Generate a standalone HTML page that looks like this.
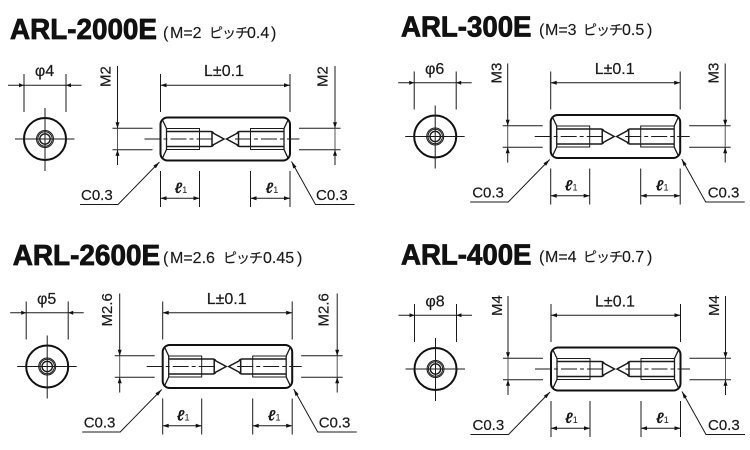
<!DOCTYPE html>
<html><head><meta charset="utf-8"><style>
html,body{margin:0;padding:0;background:#fff}
svg{display:block}
text{font-family:"Liberation Sans","Noto Sans CJK JP",sans-serif;fill:#1a1a1a}
.t{font-weight:bold;font-size:29px;stroke:#111;stroke-width:.8px;fill:#111}
.s{font-size:16px;stroke:#1a1a1a;stroke-width:.15px}
.s .k{font-size:14px;letter-spacing:-1px}
.d{font-size:15px;stroke:#1a1a1a;stroke-width:.2px}
.h{font-size:16px;stroke:#1a1a1a;stroke-width:.2px}
.l{font-size:15px;font-weight:bold;font-style:italic}
.l tspan{font-size:9px;font-weight:normal;font-style:normal}
</style></head><body>
<svg width="750" height="450" viewBox="0 0 750 450" xmlns="http://www.w3.org/2000/svg">
<defs>
<g id="b" fill="none" stroke="#1a1a1a" stroke-width="1">
  <!-- body -->
  <rect x="0" y="-21.5" width="129.5" height="43" rx="7" stroke="#111" stroke-width="2"/>
  <path d="M2 -19L6 -10.5V10.5L2 19M127.5 -19L123.5 -10.5V10.5L127.5 19" stroke-width="1.3"/>
  <path d="M6 -10.5H39V10.5H6M123.5 -10.5H90V10.5H123.5"/>
  <path d="M6 -7.5H39M6 7.5H39M90 -7.5H123.5M90 7.5H123.5" stroke-width="1.6"/>
  <path d="M39 -7.5H50Q52 -7.5 53 -6M39 7.5H50Q52 7.5 53 6M90 -7.5H79.5Q77.5 -7.5 76.5 -6M90 7.5H79.5Q77.5 7.5 76.5 6" stroke-width="1.5"/>
  <path d="M51.5 -6.5L63.5 0L51.5 6.5ZM78 -6.5L66 0L78 6.5Z" stroke-width="1.5"/>
  <path d="M-16 0H55M74.5 0H139" stroke-width="1" stroke-dasharray="16 3 4 3"/>
  <!-- M dims -->
  <path d="M-48 -10.7H-8M-48 10.7H-8M138.5 -10.7H180M138.5 10.7H180"/>
  <path d="M-43 -73V-10.7M-43 10.7V26M174.5 -73V-10.7M174.5 10.7V26"/>
  <path d="M-43 -10.7V10.7M174.5 -10.7V10.7" stroke="#555"/>
  <!-- L dim -->
  <path d="M0 -65V-27M129.5 -65V-27M0 -53.7H129.5"/>
  <!-- l dims -->
  <path d="M0 32V68M39 32V68M90 32V68M129.5 32V68M0 59.3H39M90 59.3H129.5"/>
  <!-- leaders -->
  <path d="M-80.5 65.5H-42.5L-1 23M131 22.5L155 65.5H194"/>
  <!-- front -->
  <circle cx="-115.5" cy="0" r="21" stroke="#111" stroke-width="2"/>
  <circle cx="-115.5" cy="0" r="8.5"/>
  <circle cx="-115.5" cy="0" r="7.2"/>
  <circle cx="-115.5" cy="0" r="5.2" stroke-width="1.4"/>
  <path d="M-145.5 0H-86M-115.5 -31V32"/>
  <path d="M-136.5 -65V-27M-94.5 -65V-27M-152.5 -53.7H-79"/>
</g>
<g id="a" fill="#111" stroke="none">
  <path d="M-43 -10.7l-2 -6h4zM-43 10.7l-2 6h4zM174.5 -10.7l-2 -6h4zM174.5 10.7l-2 6h4z"/>
  <path d="M0 -53.7l6 -2v4zM129.5 -53.7l-6 -2v4z"/>
  <path d="M0 59.3l6 -2v4zM39 59.3l-6 -2v4zM90 59.3l6 -2v4zM129.5 59.3l-6 -2v4z"/>
  <path d="M-1 23L-4.6 29.3L-7.2 26.7ZM131 22.5L136 27.7L132.8 29.5Z"/>
  <path d="M-136.5 -53.7l-5 -2v4zM-94.5 -53.7l5 -2v4z"/>
</g>
</defs>

<!-- Panel 1 -->
<text class="t" x="10" y="39" textLength="147" lengthAdjust="spacingAndGlyphs">ARL-2000E</text>
<text class="s" y="38"><tspan x="163">(</tspan><tspan x="170">M=2</tspan><tspan class="k" x="209">ピッチ</tspan><tspan x="247">0.4</tspan><tspan x="271">)</tspan></text>
<g transform="translate(160.5 139)">
  <use href="#b"/><use href="#a"/>
  <text class="h" x="63.5" y="-63" text-anchor="middle">L±0.1</text>
  <text class="h" x="-116" y="-63" text-anchor="middle">φ4</text>
  <text class="d" transform="translate(-50 -52) rotate(-90)">M2</text>
  <text class="d" transform="translate(167 -52) rotate(-90)">M2</text>
  <text class="d" x="-79.5" y="61">C0.3</text>
  <text class="d" x="155.5" y="61">C0.3</text>
  <text class="l" x="14" y="54">ℓ<tspan>1</tspan></text>
  <text class="l" x="105" y="54">ℓ<tspan>1</tspan></text>
</g>

<!-- Panel 2 -->
<text class="t" x="401" y="36.7" textLength="130.5" lengthAdjust="spacingAndGlyphs">ARL-300E</text>
<text class="s" y="35"><tspan x="539">(</tspan><tspan x="545">M=3</tspan><tspan class="k" x="583">ピッチ</tspan><tspan x="622">0.5</tspan><tspan x="647">)</tspan></text>
<g transform="translate(550.7 136.5)">
  <use href="#b"/><use href="#a"/>
  <text class="h" x="64" y="-62.5" text-anchor="middle">L±0.1</text>
  <text class="h" x="-116" y="-62.5" text-anchor="middle">φ6</text>
  <text class="d" transform="translate(-49 -53) rotate(-90)">M3</text>
  <text class="d" transform="translate(168 -53) rotate(-90)">M3</text>
  <text class="d" x="-78.5" y="61">C0.3</text>
  <text class="d" x="157" y="61">C0.3</text>
  <text class="l" x="14" y="54">ℓ<tspan>1</tspan></text>
  <text class="l" x="105" y="54">ℓ<tspan>1</tspan></text>
</g>

<!-- Panel 3 -->
<text class="t" x="12.7" y="265" textLength="147.5" lengthAdjust="spacingAndGlyphs">ARL-2600E</text>
<text class="s" y="263"><tspan x="163">(</tspan><tspan x="170">M=2.6</tspan><tspan class="k" x="223">ピッチ</tspan><tspan x="263">0.45</tspan><tspan x="297">)</tspan></text>
<g transform="translate(162.7 366.5)">
  <use href="#b"/><use href="#a"/>
  <text class="h" x="64" y="-62.5" text-anchor="middle">L±0.1</text>
  <text class="h" x="-116" y="-62.5" text-anchor="middle">φ5</text>
  <text class="d" transform="translate(-50.5 -40) rotate(-90)">M2.6</text>
  <text class="d" transform="translate(166 -40) rotate(-90)">M2.6</text>
  <text class="d" x="-79" y="61">C0.3</text>
  <text class="d" x="156" y="61">C0.3</text>
  <text class="l" x="14" y="54">ℓ<tspan>1</tspan></text>
  <text class="l" x="105" y="54">ℓ<tspan>1</tspan></text>
</g>

<!-- Panel 4 -->
<text class="t" x="401" y="264.3" textLength="130.5" lengthAdjust="spacingAndGlyphs">ARL-400E</text>
<text class="s" y="262"><tspan x="539">(</tspan><tspan x="545">M=4</tspan><tspan class="k" x="583">ピッチ</tspan><tspan x="622">0.7</tspan><tspan x="647">)</tspan></text>
<g transform="translate(551 369)">
  <use href="#b"/><use href="#a"/>
  <text class="h" x="64" y="-62.5" text-anchor="middle">L±0.1</text>
  <text class="h" x="-116" y="-62.5" text-anchor="middle">φ8</text>
  <text class="d" transform="translate(-49 -53) rotate(-90)">M4</text>
  <text class="d" transform="translate(168 -53) rotate(-90)">M4</text>
  <text class="d" x="-78.5" y="61">C0.3</text>
  <text class="d" x="157" y="61">C0.3</text>
  <text class="l" x="14" y="54">ℓ<tspan>1</tspan></text>
  <text class="l" x="105" y="54">ℓ<tspan>1</tspan></text>
</g>
</svg>
</body></html>
